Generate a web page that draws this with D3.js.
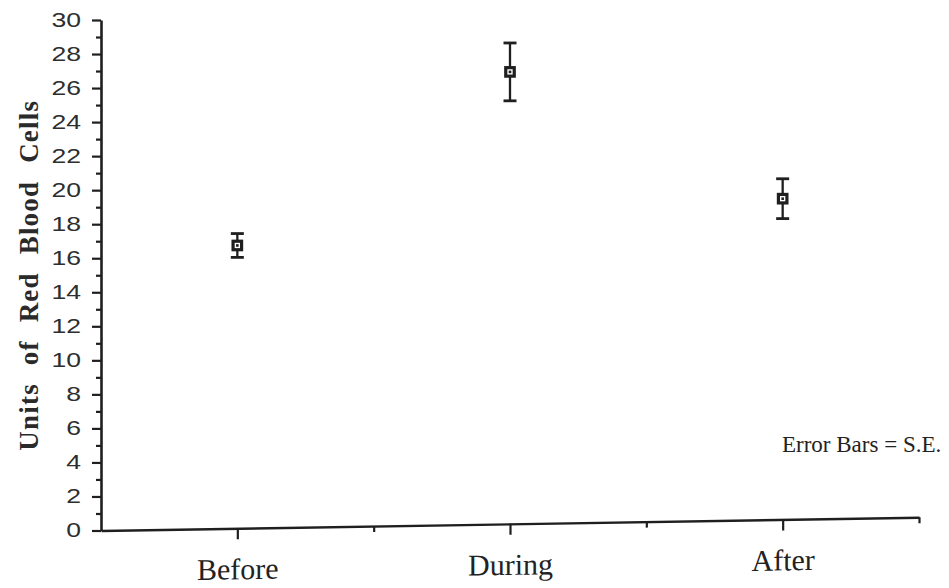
<!DOCTYPE html>
<html>
<head>
<meta charset="utf-8">
<script src="https://cdn.jsdelivr.net/npm/d3@7"></script>
<style>
  html, body { margin: 0; padding: 0; background: #fff; }
  svg { display: block; }
</style>
</head>
<body>
<svg id="chart" width="949" height="588"></svg>
<script>
// Red blood cell counts across the three collection periods (mean ± standard error)
const categories = ["Before", "During", "After"];
const means = [16.75, 26.95, 19.5];
const stdErrors = [0.7, 1.7, 1.17];
const yMajorTicks = [0, 2, 4, 6, 8, 10, 12, 14, 16, 18, 20, 22, 24, 26, 28, 30];
const yMinorTicks = [1, 3, 5, 7, 9, 11, 13, 15, 17, 19, 21, 23, 25, 27, 29];
const xMinorTicks = [1, 2, 3];
const yTitle = "Units of Red Blood Cells";
const note = "Error Bars = S.E.";

const ink = "#1f1f1f";
const svg = d3.select("#chart");

const x = d3.scaleLinear().domain([0, 3]).range([101, 919]);
const y = d3.scaleLinear().domain([0, 30]).range([530.5, 20]);
const catPos = i => x(i + 0.5);

// ---- Y axis: major ticks with labels, minor ticks without ----
const yAxisG = svg.append("g").attr("transform", `translate(${x(0)},0)`);
yAxisG.call(d3.axisLeft(y).tickValues(yMajorTicks).tickSize(9).tickSizeOuter(0).tickPadding(11));
const yMinorG = svg.append("g").attr("transform", `translate(${x(0)},0)`);
yMinorG.call(d3.axisLeft(y).tickValues(yMinorTicks).tickSize(5).tickSizeOuter(0).tickFormat(""));
yMinorG.select(".domain").remove();

[yAxisG, yMinorG].forEach(g => {
  g.selectAll(".domain").attr("stroke", ink).attr("stroke-width", 2.6);
  g.selectAll(".tick line").attr("stroke", ink).attr("stroke-width", 2.2);
});
const sx = 1.33;
yAxisG.selectAll(".tick text")
  .attr("font-family", "'Liberation Sans', Arial, sans-serif")
  .attr("font-size", 20)
  .attr("fill", "#2e2e2e")
  .attr("x", -20 / sx)
  .attr("transform", `scale(${sx},1)`);

// ---- X axis: the baseline rises slightly toward the right ----
const tilt = -0.93;
const xAxisG = svg.append("g")
  .attr("transform", `translate(${x(0)},${y(0)}) skewY(${tilt}) translate(${-x(0)},0)`);
xAxisG.call(d3.axisBottom(x)
  .tickValues(categories.map((d, i) => i + 0.5))
  .tickSize(11).tickSizeOuter(0)
  .tickFormat((d, i) => categories[i]));
const xMinorG = svg.append("g")
  .attr("transform", `translate(${x(0)},${y(0)}) skewY(${tilt}) translate(${-x(0)},0)`);
xMinorG.call(d3.axisBottom(x).tickValues(xMinorTicks).tickSize(6).tickSizeOuter(0).tickFormat(""));
xMinorG.select(".domain").remove();
[xAxisG, xMinorG].forEach(g => {
  g.selectAll(".domain").attr("stroke", ink).attr("stroke-width", 2.4);
  g.selectAll(".tick line").attr("stroke", ink).attr("stroke-width", 2.2);
});
xAxisG.selectAll(".tick text")
  .attr("font-family", "'Liberation Serif', 'Times New Roman', serif")
  .attr("font-size", 30)
  .attr("fill", "#222")
  .attr("y", 51)
  .attr("dy", 0);

// ---- Error bars ----
const capW = 13;
const bars = svg.append("g").selectAll("g.err")
  .data(categories.map((c, i) => ({ c, i, m: means[i], se: stdErrors[i] })))
  .join("g").attr("class", "err");
bars.append("line")
  .attr("x1", d => catPos(d.i)).attr("x2", d => catPos(d.i))
  .attr("y1", d => y(d.m + d.se)).attr("y2", d => y(d.m - d.se))
  .attr("stroke", ink).attr("stroke-width", 2.3);
bars.selectAll("line.cap")
  .data(d => [d.m + d.se, d.m - d.se].map(v => ({ i: d.i, v })))
  .join("line").attr("class", "cap")
  .attr("x1", d => catPos(d.i) - capW / 2).attr("x2", d => catPos(d.i) + capW / 2)
  .attr("y1", d => y(d.v)).attr("y2", d => y(d.v))
  .attr("stroke", ink).attr("stroke-width", 2.8);

// ---- Open square markers with a center dot ----
const sq = 8.5;
bars.append("rect")
  .attr("x", d => catPos(d.i) - sq / 2).attr("y", d => y(d.m) - sq / 2)
  .attr("width", sq).attr("height", sq)
  .attr("fill", "#fff").attr("stroke", ink).attr("stroke-width", 3.2);
bars.append("rect")
  .attr("x", d => catPos(d.i) - 1.3).attr("y", d => y(d.m) - 1.3)
  .attr("width", 2.6).attr("height", 2.6)
  .attr("fill", ink);

// ---- Y axis title ----
svg.append("text")
  .attr("transform", `translate(38,${(y(0) + y(30)) / 2}) rotate(-90)`)
  .attr("text-anchor", "middle")
  .attr("font-family", "'Liberation Serif', 'Times New Roman', serif")
  .attr("font-weight", "bold")
  .attr("font-size", 27)
  .attr("letter-spacing", 1.2)
  .attr("word-spacing", 10)
  .attr("fill", "#2a2a2a")
  .text(yTitle);

// ---- Note ----
svg.append("text")
  .attr("x", 782).attr("y", 452)
  .attr("font-family", "'Liberation Serif', 'Times New Roman', serif")
  .attr("font-size", 23)
  .attr("fill", "#222")
  .text(note);
</script>
</body>
</html>
